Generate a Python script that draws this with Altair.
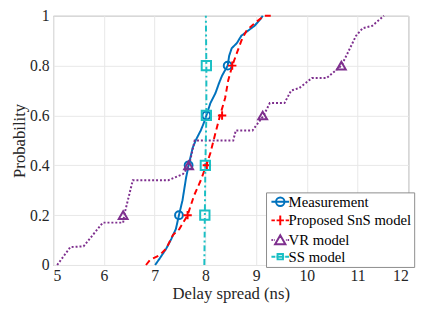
import altair as alt
import pandas as pd

series = ["Measurement", "Proposed SnS model", "VR model", "SS model"]
colors = ["#0072BD", "#FF0000", "#7E2F8E", "#1ABFC4"]
dashes = [[1, 0], [6, 4], [2, 2], [6, 3, 2, 3]]
widths = [2, 2, 2, 1.6]
shapes = ["circle", "M-1,0L1,0M0,-1L0,1", "triangle-up", "square"]
msizes = [64, 90, 110, 28]

# legend glyphs: line sample with marker on top (units of 5 px at size 100)
legend_glyphs = [
    "M-1.8,0L1.8,0M-0.86,0A0.86,0.86 0 1,1 0.86,0A0.86,0.86 0 1,1 -0.86,0",
    "M-1.8,0L-1.1,0M-0.75,0L0.75,0M1.1,0L1.8,0M0,-1L0,1",
    "M-1.8,0L-1.5,0M-1.3,0L-1.15,0M1.15,0L1.3,0M1.5,0L1.8,0M0,-0.95L1.05,0.85L-1.05,0.85Z",
    "M-1.8,0L-1.0,0M-0.8,0L0.8,0M1.0,0L1.8,0M-0.55,-0.55L0.55,-0.55L0.55,0.55L-0.55,0.55Z",
]

meas_x = [7.01, 7.1, 7.23, 7.33, 7.42, 7.48, 7.55, 7.62, 7.67, 7.75, 7.81, 7.91, 7.97, 8.02,
          8.1, 8.2, 8.27, 8.33, 8.44, 8.47, 8.52, 8.62, 8.71, 8.84, 8.97, 9.1, 9.13]
meas_y = [0.0, 0.026, 0.066, 0.105, 0.145, 0.2, 0.26, 0.35, 0.4, 0.47, 0.5, 0.54, 0.57, 0.6,
          0.65, 0.69, 0.73, 0.76, 0.8, 0.84, 0.87, 0.89, 0.92, 0.94, 0.96, 0.99, 1.0]

sns_x = [6.83, 6.91, 7.1, 7.23, 7.36, 7.49, 7.65, 7.78, 7.91, 8.02, 8.1, 8.2, 8.29, 8.39,
         8.45, 8.53, 8.62, 8.71, 8.81, 8.97, 9.16, 9.36]
sns_y = [0.0, 0.02, 0.04, 0.066, 0.12, 0.145, 0.2, 0.28, 0.34, 0.4, 0.45, 0.53, 0.6, 0.67,
         0.74, 0.8, 0.85, 0.9, 0.94, 0.97, 1.0, 1.0]

vr_x = [5.08, 5.34, 5.6, 5.98, 6.38, 6.4, 6.57, 7.27, 7.56, 7.68, 7.79, 8.55, 8.6, 8.93,
        9.15, 9.27, 9.56, 9.69, 9.85, 10.1, 10.39, 10.68, 10.78, 10.97, 11.1, 11.29, 11.52]
vr_y = [0.0, 0.072, 0.075, 0.17, 0.17, 0.2, 0.34, 0.34, 0.365, 0.4, 0.5, 0.5, 0.54, 0.54,
        0.6, 0.65, 0.65, 0.7, 0.71, 0.75, 0.75, 0.8, 0.84, 0.92, 0.95, 0.96, 1.0]

ss_x = [7.98, 7.99, 8.0, 8.02, 8.02, 8.01]
ss_y = [0.0, 0.2, 0.4, 0.6, 0.8, 1.0]

marker_y = [0.2, 0.4, 0.6, 0.8]
meas_mx = [7.48, 7.67, 8.02, 8.44]
sns_mx = [7.65, 8.03, 8.33, 8.53]
vr_mx = [6.38, 7.67, 9.13, 10.68]
ss_mx = [7.99, 8.0, 8.02, 8.02]

x_ticks = [5, 6, 7, 8, 9, 10, 11, 12]
y_ticks = [0, 0.2, 0.4, 0.6, 0.8, 1]

rows = []
for name, xs, ys in [(series[0], meas_x, meas_y), (series[1], sns_x, sns_y),
                     (series[2], vr_x, vr_y), (series[3], ss_x, ss_y)]:
    for i, (xv, yv) in enumerate(zip(xs, ys)):
        rows.append({"series": name, "x": xv, "y": yv, "order": i})
lines_df = pd.DataFrame(rows)

prow = []
for name, xs in [(series[0], meas_mx), (series[1], sns_mx), (series[2], vr_mx), (series[3], ss_mx)]:
    for xv, yv in zip(xs, marker_y):
        prow.append({"series": name, "x": xv, "y": yv})
pts_df = pd.DataFrame(prow)

FONT = "Liberation Serif"
TXT = "#262626"
xscale = alt.Scale(domain=[5, 12], nice=False)
yscale = alt.Scale(domain=[0, 1], nice=False)
color_scale = alt.Scale(domain=series, range=colors)

axis_style = dict(ticks=False, domain=False, gridColor="#e8e8e8", labelFont=FONT, titleFont=FONT,
                  labelFontSize=16, titleFontSize=17, labelColor=TXT, titleColor=TXT,
                  titleFontWeight="normal")
xaxis = alt.Axis(values=x_ticks, title="Delay spread (ns)", format="d",
                 labelPadding=3, titlePadding=2, **axis_style)
yaxis = alt.Axis(values=y_ticks, title="Probability", format="~g",
                 labelPadding=4, titlePadding=1, **axis_style)

leg = alt.Legend(orient="none", legendX=217, legendY=180, title=None,
                 symbolSize=100, symbolStrokeWidth=2, symbolOffset=5, symbolOpacity=1,
                 symbolFillColor="transparent",
                 labelFontSize=15, labelFont=FONT, labelColor="black", labelOffset=1,
                 labelLimit=300, fillColor="white", strokeColor="#8c8c8c",
                 padding=2, rowPadding=1)

lines = alt.Chart(lines_df).mark_line().encode(
    x=alt.X("x:Q", scale=xscale, axis=xaxis),
    y=alt.Y("y:Q", scale=yscale, axis=yaxis),
    color=alt.Color("series:N", scale=color_scale, legend=None),
    strokeDash=alt.StrokeDash("series:N", scale=alt.Scale(domain=series, range=dashes), legend=None),
    strokeWidth=alt.StrokeWidth("series:N", scale=alt.Scale(domain=series, range=widths), legend=None),
    order="order:Q",
)

points = alt.Chart(pts_df).mark_point(filled=False, strokeWidth=2, opacity=1).encode(
    x=alt.X("x:Q", scale=xscale, axis=xaxis),
    y=alt.Y("y:Q", scale=yscale, axis=yaxis),
    color=alt.Color("series:N", scale=color_scale, legend=None),
    shape=alt.Shape("series:N", scale=alt.Scale(domain=series, range=shapes), legend=None),
    size=alt.Size("series:N", scale=alt.Scale(domain=series, range=msizes), legend=None),
)

legend_layer = alt.Chart(pts_df).transform_filter(alt.datum.x < 0).mark_point(
    filled=False, strokeWidth=2, opacity=1
).encode(
    x=alt.X("x:Q", scale=xscale, axis=xaxis),
    y=alt.Y("y:Q", scale=yscale, axis=yaxis),
    color=alt.Color("series:N", scale=color_scale, legend=leg),
    shape=alt.Shape("series:N", scale=alt.Scale(domain=series, range=legend_glyphs), legend=leg),
)

chart = alt.layer(lines, points, legend_layer).resolve_scale(
    color="independent", shape="independent"
).properties(
    width=362, height=254, autosize="none", background="white",
    padding={"left": 46, "top": 5, "right": 16, "bottom": 47},
).configure(font=FONT).configure_axis(
    labelFont=FONT, titleFont=FONT
).configure_view(stroke="#8c8c8c", strokeWidth=1)

chart.save("out.html", embed_options={"renderer": "svg", "actions": False})
